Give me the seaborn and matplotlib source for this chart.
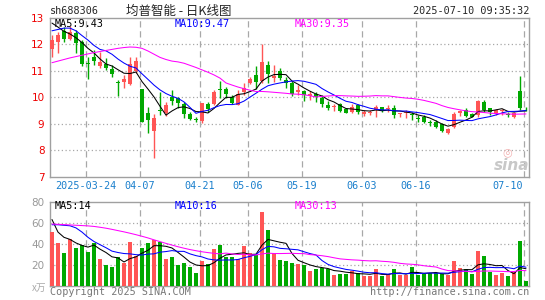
import numpy as np
import pandas as pd
import matplotlib
matplotlib.use("Agg")
import matplotlib.pyplot as plt
import matplotlib.transforms as mtransforms
import seaborn as sns

# -----------------------------
# Data
# -----------------------------
open_ = [11.83, 12.08, 12.50, 12.19, 12.42, 12.08, 11.28, 11.53, 11.19, 11.25,
         11.07, 10.57, 10.57, 10.50, 11.00, 10.31, 9.40, 8.74, 9.53, 9.40,
         10.02, 9.96, 9.74, 9.38, 9.15, 9.11, 9.74, 9.74, 10.30, 10.31,
         10.02, 9.71, 10.21, 10.53, 10.84, 10.62, 11.22, 10.74, 10.99, 10.65,
         10.53, 10.18, 10.24, 10.05, 10.13, 9.99, 9.71, 9.63, 9.74, 9.55,
         9.46, 9.71, 9.36, 9.40, 9.52, 9.62, 9.55, 9.61, 9.37, 9.40,
         9.35, 9.22, 9.25, 9.07, 9.08, 8.98, 8.65, 8.89, 9.40, 9.52,
         9.37, 9.33, 9.81, 9.58, 9.40, 9.48, 9.37, 9.27, 10.24, 9.60]
high = [12.35, 12.45, 12.65, 12.68, 12.54, 12.16, 11.53, 11.79, 11.70, 11.47,
        11.22, 10.65, 10.84, 11.50, 11.50, 10.31, 9.62, 9.36, 10.19, 9.84,
        10.28, 10.00, 9.84, 9.46, 9.27, 9.80, 9.81, 10.28, 10.62, 10.40,
        10.09, 10.28, 10.53, 10.78, 11.16, 12.00, 11.37, 11.22, 11.09, 10.78,
        10.62, 10.47, 10.28, 10.24, 10.18, 10.09, 9.86, 9.74, 9.77, 9.60,
        9.74, 9.74, 9.52, 9.52, 9.71, 9.65, 9.71, 9.71, 9.42, 9.52,
        9.46, 9.33, 9.33, 9.14, 9.14, 9.05, 8.86, 9.46, 9.52, 9.61,
        9.40, 9.90, 9.90, 9.61, 9.56, 9.56, 9.46, 9.46, 10.80, 9.65]
low = [11.50, 11.68, 12.08, 12.16, 11.66, 11.16, 10.68, 11.22, 11.09, 11.03,
       10.78, 10.05, 10.36, 10.47, 10.90, 9.06, 8.64, 7.72, 9.33, 9.28,
       9.71, 9.58, 9.21, 9.14, 9.06, 9.02, 9.46, 9.69, 9.96, 9.96,
       9.74, 9.69, 10.09, 10.49, 10.31, 10.53, 10.53, 10.59, 10.65, 10.34,
       10.05, 10.09, 9.86, 9.90, 9.84, 9.65, 9.52, 9.48, 9.46, 9.40,
       9.40, 9.38, 9.30, 9.33, 9.27, 9.46, 9.46, 9.21, 9.27, 9.23,
       9.14, 9.08, 9.02, 8.93, 8.84, 8.68, 8.60, 8.83, 9.30, 9.27,
       9.25, 9.27, 9.46, 9.33, 9.33, 9.33, 9.27, 9.21, 9.52, 9.50]
close = [12.16, 12.35, 12.20, 12.44, 12.04, 11.26, 11.25, 11.35, 11.31, 11.09,
         10.88, 10.55, 10.69, 11.25, 11.38, 9.08, 9.14, 9.21, 9.50, 9.71,
         9.86, 9.77, 9.36, 9.18, 9.14, 9.80, 9.56, 10.21, 10.28, 10.13,
         9.80, 10.11, 10.34, 10.69, 10.59, 11.31, 10.87, 10.80, 10.74, 10.53,
         10.11, 10.28, 10.09, 10.13, 10.00, 9.74, 9.58, 9.66, 9.48, 9.42,
         9.65, 9.46, 9.46, 9.42, 9.62, 9.50, 9.57, 9.33, 9.39, 9.42,
         9.33, 9.20, 9.08, 9.05, 8.89, 8.74, 8.80, 9.37, 9.50, 9.31,
         9.27, 9.86, 9.52, 9.46, 9.52, 9.49, 9.35, 9.40, 9.61, 9.58]
volume = [50.6, 40.3, 31.3, 44.8, 36.1, 38.7, 32.3, 41.0, 25.5, 20.0,
          18.1, 27.1, 21.6, 41.6, 28.4, 35.5, 41.0, 43.5, 41.6, 25.5,
          27.4, 20.0, 21.3, 17.7, 11.6, 23.5, 21.0, 35.2, 38.7, 27.4,
          26.8, 25.2, 37.7, 31.0, 28.7, 70.0, 52.6, 31.0, 24.2, 23.5,
          21.5, 20.3, 19.4, 13.5, 15.5, 16.8, 15.8, 9.7, 10.6, 10.6,
          13.9, 11.6, 8.7, 8.7, 15.5, 8.7, 10.6, 15.5, 9.7, 9.7,
          17.4, 9.7, 11.3, 11.6, 12.3, 11.0, 9.7, 23.2, 16.5, 15.5,
          10.6, 32.9, 28.1, 13.2, 9.7, 11.6, 8.7, 13.2, 42.6, 3.9]

# moving-average values at the left edge (window starts before the chart)
ma5_head = [12.79, 12.64, 12.48, 12.38]
ma10_head = [12.50, 12.55, 12.60, 12.60, 12.50, 12.32, 12.15, 11.95, 11.80]
ma30_head = [11.30, 11.36, 11.42, 11.48, 11.53, 11.58, 11.63, 11.68, 11.72, 11.76,
             11.80, 11.84, 11.87, 11.89, 11.88, 11.84, 11.74, 11.62, 11.50, 11.42,
             11.36, 11.33, 11.28, 11.20, 11.12, 11.03, 10.94, 10.84, 10.72]
vma5_head = [63.0, 51.0, 46.0, 44.0]
vma10_head = [58.0, 58.0, 57.5, 57.0, 55.0, 51.0, 46.0, 42.0, 39.0]
vma30_head = [58.7, 58.4, 58.1, 57.8, 57.5, 57.2, 56.9, 56.4, 55.6, 54.7,
              53.6, 52.4, 51.2, 49.9, 48.5, 47.0, 45.4, 43.6, 41.9, 40.2,
              38.6, 37.0, 35.6, 34.3, 33.2, 32.2, 31.4, 30.7, 30.2]

date_labels = ["2025-03-24", "04-07", "04-21", "05-06", "05-19", "06-03", "06-16", "07-10"]
date_index = [6, 15, 25, 33, 42, 52, 61, 79]

df = pd.DataFrame({"open": open_, "high": high, "low": low,
                   "close": close, "volume": volume})
df["x"] = np.arange(len(df))


def moving_avg(series, n, head):
    ma = series.rolling(n).mean()
    ma.iloc[:len(head)] = head
    return ma


df["ma5"] = moving_avg(df["close"], 5, ma5_head)
df["ma10"] = moving_avg(df["close"], 10, ma10_head)
df["ma30"] = moving_avg(df["close"], 30, ma30_head)
df["vma5"] = moving_avg(df["volume"], 5, vma5_head)
df["vma10"] = moving_avg(df["volume"], 10, vma10_head)
df["vma30"] = moving_avg(df["volume"], 30, vma30_head)

RED = "#FF5555"
GREEN = "#00A800"
GRID = "#A8A8A8"
FRAME = "#A0A0A0"
colors = [RED if c >= o else GREEN for o, c in zip(df["open"], df["close"])]

sns.set_style("white")
plt.rcParams["font.family"] = ["DejaVu Sans Mono", "Noto Sans CJK SC"]

W, H = 545, 300
fig = plt.figure(figsize=(W / 100, H / 100), dpi=100)


def box(x0, y0, x1, y1):
    return [x0 / W, 1 - y1 / H, (x1 - x0) / W, (y1 - y0) / H]


ax = fig.add_axes(box(50, 17.5, 529, 177))
axv = fig.add_axes(box(50, 201.7, 529, 285.5))

# -----------------------------
# Price panel
# -----------------------------
ax.vlines(df["x"], df["low"], df["high"], colors=colors, lw=1.0, zorder=2)
body = (df["close"] - df["open"]).abs().clip(lower=0.03)
bottom = df[["open", "close"]].min(axis=1)
ax.bar(df["x"], body, bottom=bottom, width=0.78, color=colors, lw=0, zorder=3)

sns.lineplot(data=df, x="x", y="ma5", ax=ax, color="black", lw=0.75, zorder=4)
sns.lineplot(data=df, x="x", y="ma10", ax=ax, color="#0000FF", lw=0.75, zorder=4)
sns.lineplot(data=df, x="x", y="ma30", ax=ax, color="#FF00FF", lw=0.75, zorder=4)

ax.set_xlim(-0.33, 79.5)
ax.set_ylim(7, 13)
ax.set_yticks([7, 8, 9, 10, 11, 12, 13])
ax.set_yticklabels(["7", "8", "9", "10", "11", "12", "13"], color="#EE0000",
                   fontsize=7.5, family="DejaVu Sans")
for y in [8, 9, 10, 11, 12]:
    ax.axhline(y, color=GRID, lw=0.9, ls=(0, (1, 2)), zorder=1)

# -----------------------------
# Volume panel
# -----------------------------
axv.bar(df["x"], df["volume"], width=0.78, color=colors, lw=0, zorder=3)
sns.lineplot(data=df, x="x", y="vma5", ax=axv, color="black", lw=0.75, zorder=4)
sns.lineplot(data=df, x="x", y="vma10", ax=axv, color="#0000FF", lw=0.75, zorder=4)
sns.lineplot(data=df, x="x", y="vma30", ax=axv, color="#FF00FF", lw=0.75, zorder=4)
axv.set_xlim(-0.33, 79.5)
axv.set_ylim(0, 80)
axv.set_yticks([20, 40, 60, 80])
axv.set_yticklabels(["20", "40", "60", "80"], color="#999999",
                    fontsize=7.5, family="DejaVu Sans")
for y in [20, 40, 60]:
    axv.axhline(y, color=GRID, lw=0.9, ls=(0, (1, 2)), zorder=1)

for a in (ax, axv):
    a.set_xlabel("")
    a.set_ylabel("")
    a.set_xticks([])
    a.tick_params(axis="y", length=0, pad=4)
    for s in a.spines.values():
        s.set_color(FRAME)
        s.set_linewidth(1.0)
    for i in date_index:
        a.axvline(i - 0.35, color=GRID, lw=0.9, ls=(0, (5, 3)), zorder=1)

# date labels under the price panel
trans = mtransforms.blended_transform_factory(ax.transData, fig.transFigure)
for lab, i in zip(date_labels, date_index):
    if lab == "07-10":
        ax.text(78.55, 1 - 186 / H, lab, transform=trans, ha="right", va="center",
                color="#1A7FCC", fontsize=7.3)
    else:
        ax.text(i - 0.35, 1 - 186 / H, lab, transform=trans, ha="center", va="center",
                color="#1A7FCC", fontsize=7.3)

# -----------------------------
# Texts
# -----------------------------
fs = 7.3
fig.text(50 / W, 1 - 11 / H, "sh688306", ha="left", va="center", fontsize=fs)
fig.text(178.5 / W, 1 - 11 / H, "均普智能 - 日K线图", ha="center", va="center",
         fontsize=9, family=["Noto Sans CJK SC", "DejaVu Sans"])
fig.text(529 / W, 1 - 11 / H, "2025-07-10 09:35:32", ha="right", va="center", fontsize=fs)

fig.text(55 / W, 1 - 23.7 / H, "MA5:9.43", ha="left", va="center", fontsize=fs, color="black")
fig.text(175 / W, 1 - 23.7 / H, "MA10:9.47", ha="left", va="center", fontsize=fs, color="#0000FF")
fig.text(295 / W, 1 - 23.7 / H, "MA30:9.35", ha="left", va="center", fontsize=fs, color="#FF00FF")

fig.text(55 / W, 1 - 206 / H, "MA5:14", ha="left", va="center", fontsize=fs, color="black")
fig.text(175 / W, 1 - 206 / H, "MA10:16", ha="left", va="center", fontsize=fs, color="#0000FF")
fig.text(295 / W, 1 - 206 / H, "MA30:13", ha="left", va="center", fontsize=fs, color="#FF00FF")

fig.text(46 / W, 1 - 288 / H, "x万", ha="right", va="center", fontsize=7,
         color="#AAAAAA", family=["Noto Sans CJK SC", "DejaVu Sans"])
fig.text(50 / W, 1 - 292 / H, "Copyright 2025 SINA.COM", ha="left", va="center",
         fontsize=fs, color="#777777")
fig.text(529 / W, 1 - 292 / H, "http://finance.sina.com.cn", ha="right", va="center",
         fontsize=fs, color="#777777")

# sina watermark
fig.text(512 / W, 1 - 165 / H, "sina", ha="center", va="center", fontsize=11,
         style="italic", weight="bold", color="#C8C8C8", family="DejaVu Sans")
fig.text(507 / W, 1 - 152 / H, "◎", ha="center", va="center", fontsize=8,
         color="#F2B0B0", family="DejaVu Sans")

fig.savefig("out.png", dpi=100)
